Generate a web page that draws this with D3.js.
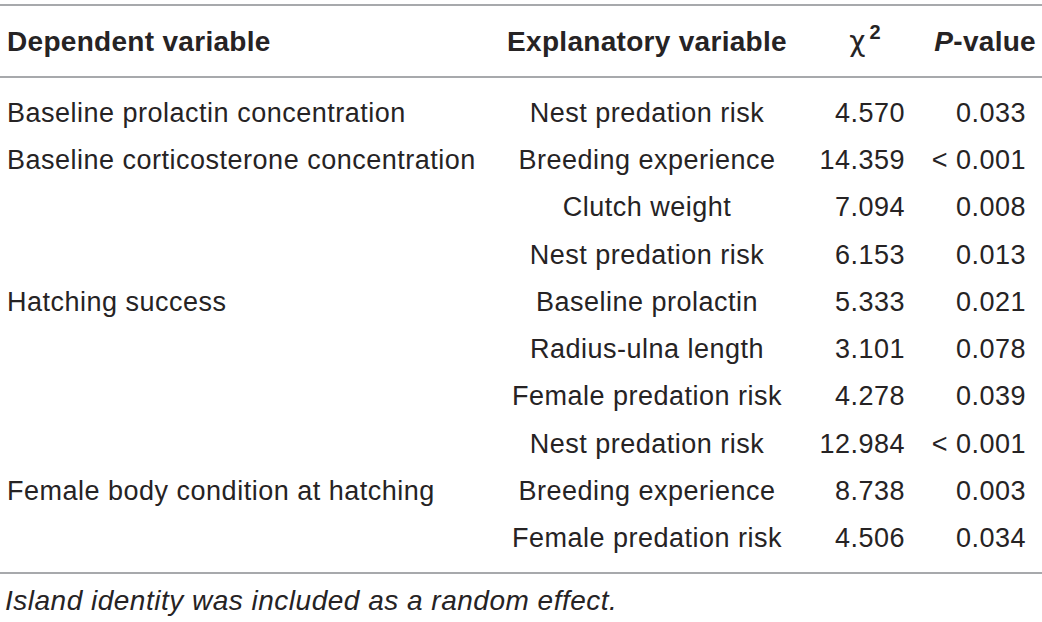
<!DOCTYPE html>
<html><head><meta charset="utf-8">
<script src="https://cdn.jsdelivr.net/npm/d3@7"></script>
<style>
html,body{margin:0;padding:0;background:#fff;}
svg{display:block;}
text{font-family:"Liberation Sans",Arial,sans-serif;fill:#262324;}
</style></head>
<body>
<svg id="t" width="1042" height="622"></svg>
<script>
const headers = ["Dependent variable", "Explanatory variable", "χ", "P-value"];
const dependent = ["Baseline prolactin concentration", "Baseline corticosterone concentration", "", "", "Hatching success", "", "", "", "Female body condition at hatching", ""];
const explanatory = ["Nest predation risk", "Breeding experience", "Clutch weight", "Nest predation risk", "Baseline prolactin", "Radius-ulna length", "Female predation risk", "Nest predation risk", "Breeding experience", "Female predation risk"];
const chi2 = ["4.570", "14.359", "7.094", "6.153", "5.333", "3.101", "4.278", "12.984", "8.738", "4.506"];
const pvalue = ["0.033", "< 0.001", "0.008", "0.013", "0.021", "0.078", "0.039", "< 0.001", "0.003", "0.034"];
const footnote = "Island identity was included as a random effect.";

const svg = d3.select("#t");
const fs = 27;
const y = d3.scaleLinear().domain([0, 9]).range([122, 547]);
const lineColor = "#a7a9ac";

// rules
[5, 77, 573].forEach(v => svg.append("line").attr("x1", 0).attr("x2", 1042)
  .attr("y1", v).attr("y2", v).attr("stroke", lineColor).attr("stroke-width", 2));

// header
const hy = 51;
const hdr = svg.append("g").attr("font-weight", "bold").attr("font-size", fs + 1);
hdr.append("text").attr("x", 7).attr("y", hy).attr("letter-spacing", 0.3).text(headers[0]);
hdr.append("text").attr("x", 647).attr("y", hy).attr("text-anchor", "middle").attr("letter-spacing", 0.3).text(headers[1]);
const chi = svg.append("text").attr("x", 865).attr("y", hy).attr("text-anchor", "middle").attr("font-size", fs + 1);
chi.append("tspan").attr("font-family", "DejaVu Sans").attr("font-weight", "normal").text(headers[2]);
chi.append("tspan").attr("dy", -12).attr("font-size", 20).attr("font-weight", "bold").attr("dx", 4).text("2");
const pv = hdr.append("text").attr("x", 1036).attr("y", hy).attr("text-anchor", "end").attr("letter-spacing", 0.3);
pv.append("tspan").attr("font-style", "italic").text("P");
pv.append("tspan").text(headers[3].slice(1));

// body
const rows = d3.range(explanatory.length);
const g = svg.append("g").attr("font-size", fs).attr("letter-spacing", 0.5);
g.selectAll(".dep").data(rows).join("text").attr("x", 7).attr("y", i => y(i)).text(i => dependent[i]);
g.selectAll(".exp").data(rows).join("text").attr("x", 647).attr("y", i => y(i)).attr("text-anchor", "middle").text(i => explanatory[i]);
g.selectAll(".chi").data(rows).join("text").attr("x", 905).attr("y", i => y(i)).attr("text-anchor", "end").text(i => chi2[i]);
g.selectAll(".pv").data(rows).join("text").attr("x", 1026).attr("y", i => y(i)).attr("text-anchor", "end").text(i => pvalue[i]);

svg.append("text").attr("x", 5).attr("y", 610).attr("font-size", 28).attr("font-style", "italic")
  .attr("letter-spacing", 0.5).text(footnote);
</script>
</body></html>
